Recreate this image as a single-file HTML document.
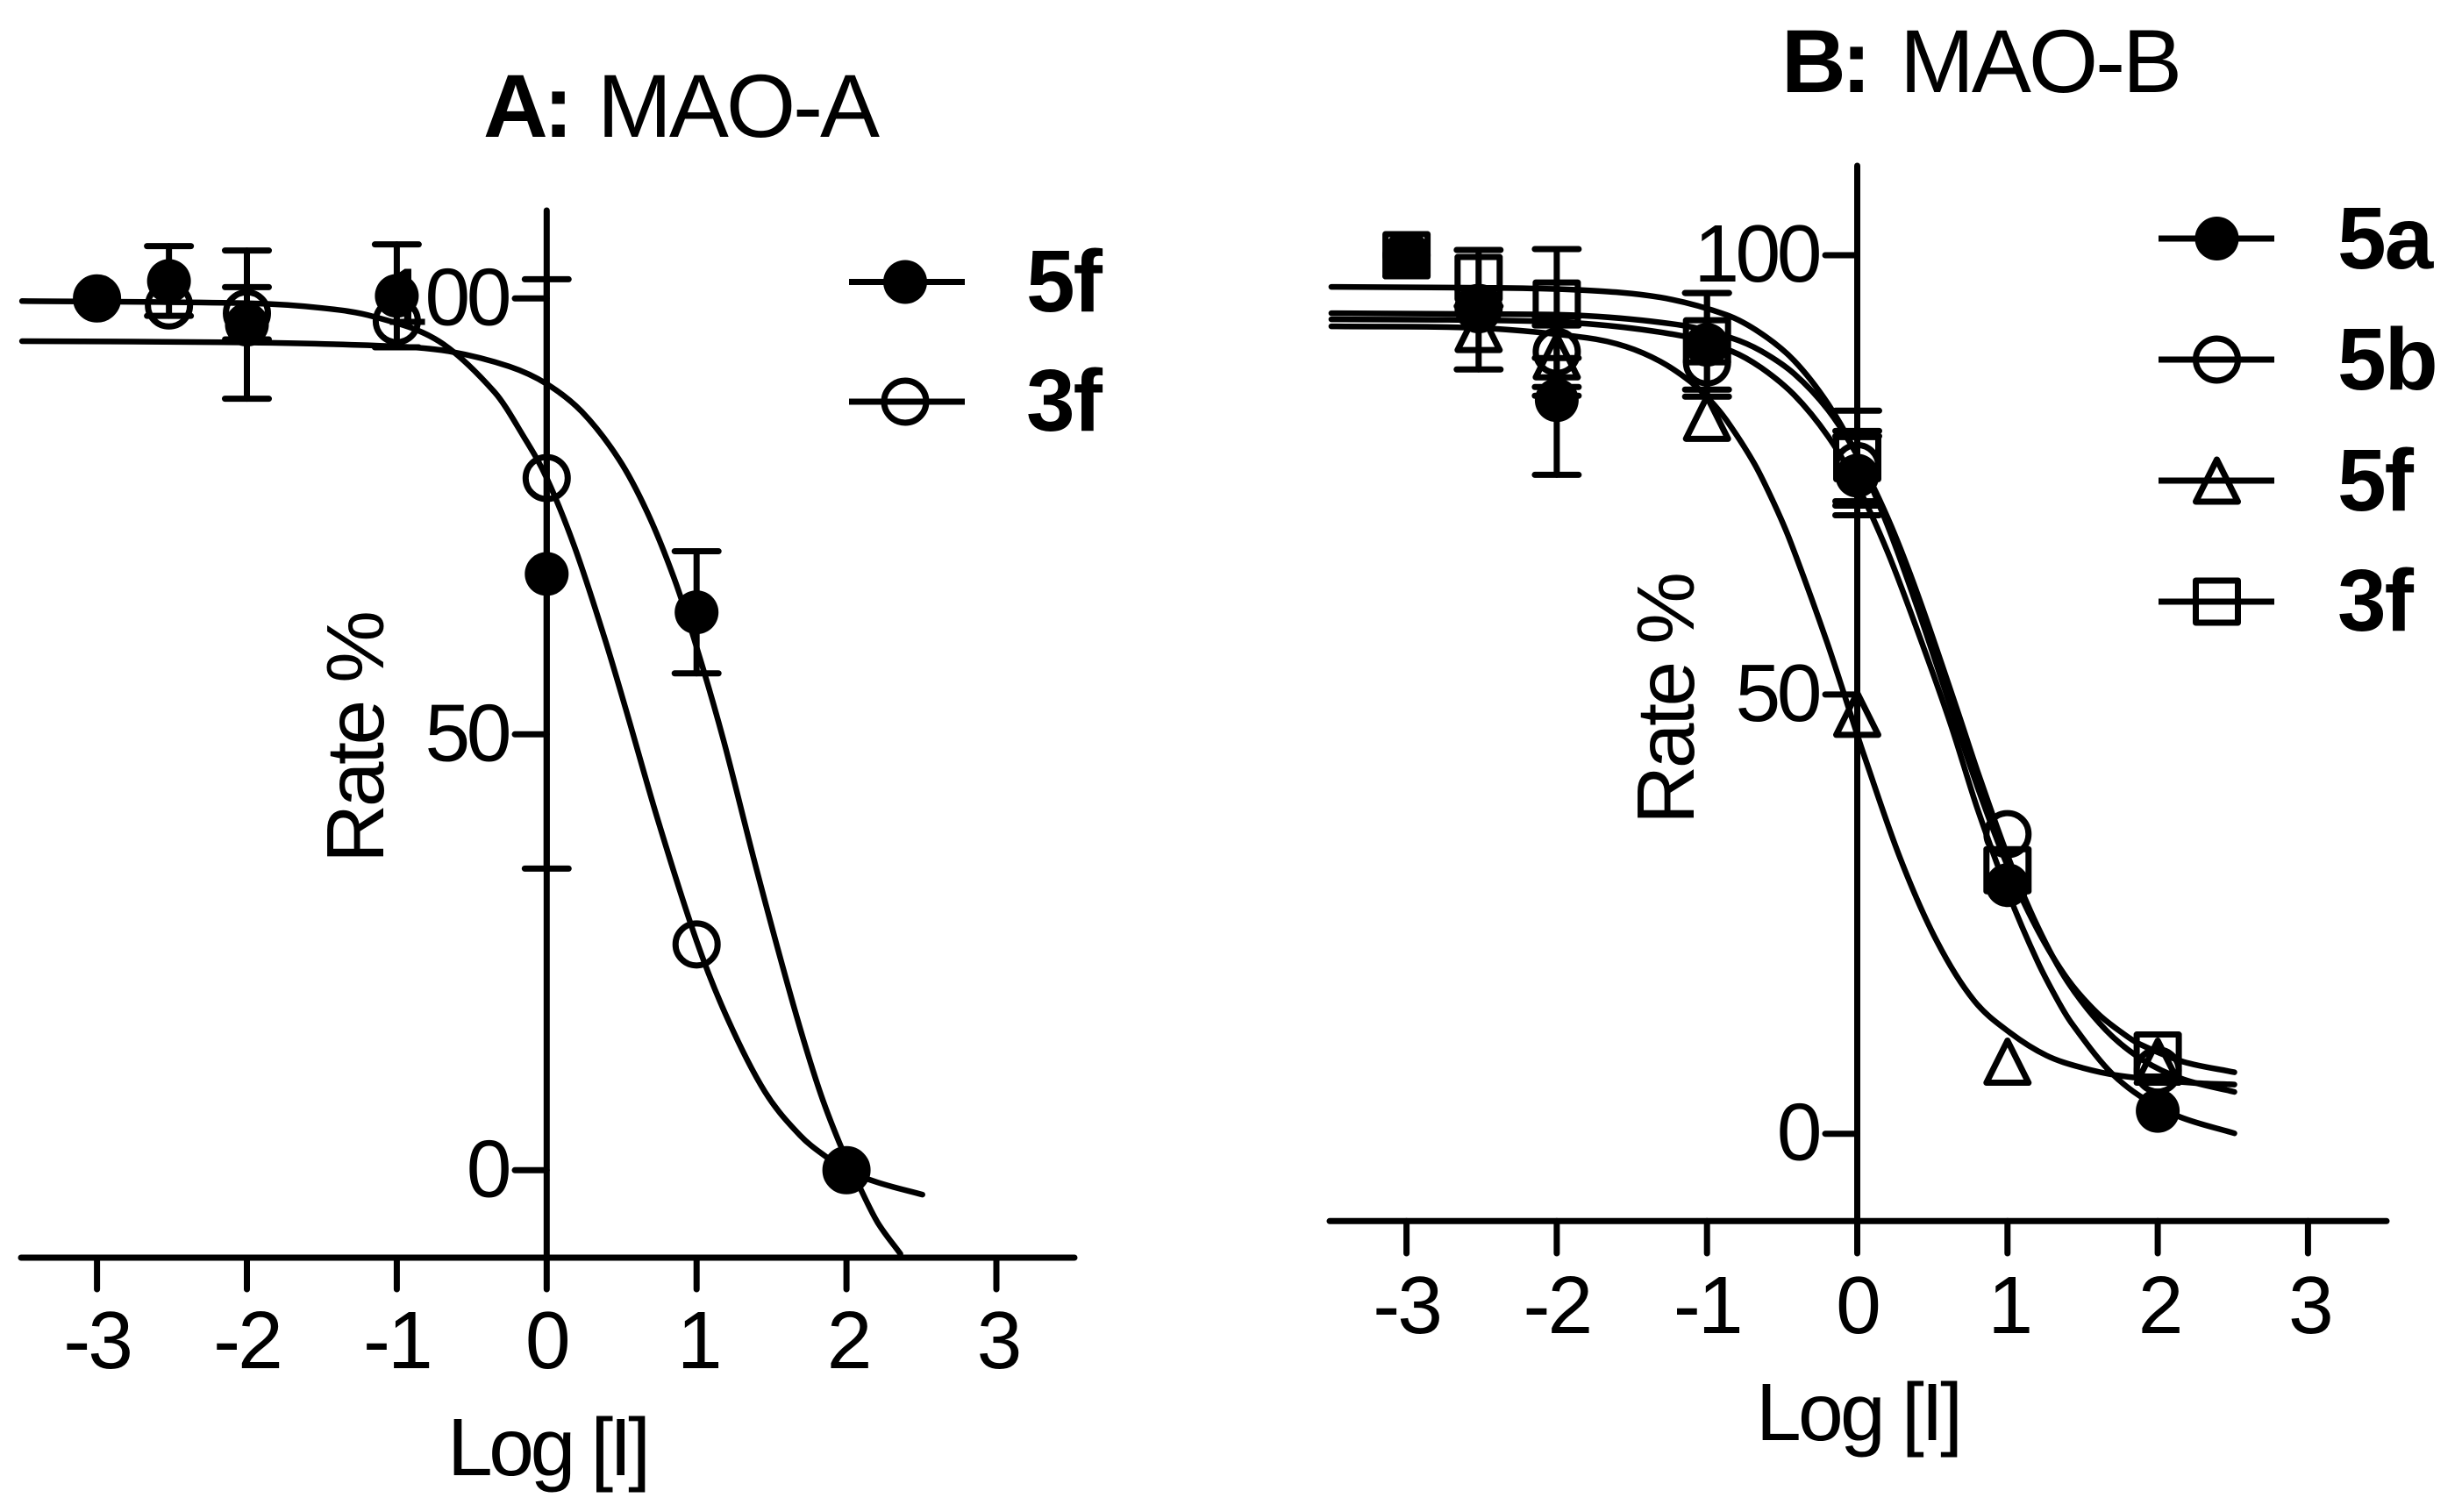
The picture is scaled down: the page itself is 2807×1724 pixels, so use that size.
<!DOCTYPE html>
<html lang="en">
<head>
<meta charset="utf-8">
<title>MAO-A and MAO-B inhibition curves</title>
<style>
  html, body { margin: 0; padding: 0; background: #fff; }
  svg { display: block; }
  text { font-family: "Liberation Sans", sans-serif; fill: #000; }
  .title { font-size: 102px; }
  .bold { font-weight: bold; letter-spacing: -5px; }
  .tick-x { font-size: 93px; letter-spacing: -3px; }
  .tick-y { font-size: 93px; letter-spacing: -4.5px; }
  .axis-title { font-size: 93px; }
  .legend-label { font-size: 100px; font-weight: bold; letter-spacing: -2px; }
</style>
</head>
<body>
<svg id="figure" xmlns="http://www.w3.org/2000/svg" width="2807" height="1724" viewBox="0 0 2807 1724">
  <rect width="2807" height="1724" fill="#fff"/>

  <g id="panelA">
    <text class="title bold" x="551" y="156">A:</text>
    <text class="title" x="681" y="156" textLength="322" lengthAdjust="spacing">MAO-A</text>
    <text class="axis-title" x="510" y="1682" textLength="232" lengthAdjust="spacing">Log [I]</text>
    <text class="axis-title" transform="translate(437 984) rotate(-90)" textLength="288" lengthAdjust="spacing">Rate %</text>
    <text class="legend-label" x="1170" y="355">5f</text>
    <text class="legend-label" x="1170" y="491">3f</text>
  </g>

  <g id="panelB">
    <text class="title bold" x="2031" y="105">B:</text>
    <text class="title" x="2166" y="105" textLength="322" lengthAdjust="spacing">MAO-B</text>
    <text class="axis-title" x="2002" y="1642" textLength="236" lengthAdjust="spacing">Log [I]</text>
    <text class="axis-title" transform="translate(1931 940) rotate(-90)" textLength="288" lengthAdjust="spacing">Rate %</text>
    <text class="legend-label" x="2665" y="306">5a</text>
    <text class="legend-label" x="2665" y="444">5b</text>
    <text class="legend-label" x="2665" y="582">5f</text>
    <text class="legend-label" x="2665" y="719">3f</text>
  </g>
</svg>

<script>
// ---------- shared axis values ----------
const xTickValues = [-3, -2, -1, 0, 1, 2, 3];
const xTickLabels = ["-3", "-2", "-1", "0", "1", "2", "3"];
const yTickValues = [0, 50, 100];
const yTickLabels = ["0", "50", "100"];

// ---------- Panel A: measured points ----------
const a5fDoses = [-3, -2.52, -2, -1, 0, 1, 2];
const a5fRates = [100, 102, 97, 100.3, 68.4, 64, 0];
const a5fErrors = [0, 4, 8.5, 5.9, 33.8, 7, 0];
const a3fDoses = [-3, -2.52, -2, -1, 0, 1, 2];
const a3fRates = [100, 99.2, 98.3, 97.4, 79.4, 25.9, 0];
const a3fErrors = [0, 0, 3, 0, 0, 0, 0];

// ---------- Panel A: fitted curves ----------
const a5fCurveX = [-3.5, -2, -1, -0.64, -0.25, 0, 0.235, 0.48, 0.67, 0.85, 1, 1.18, 1.4, 1.645, 1.815, 1.954, 2.09, 2.208, 2.36];
const a5fCurveY = [95.1, 94.95, 94.5, 93.9, 92.2, 90.2, 87, 81.6, 75.5, 67.9, 60, 49.3, 34.5, 19, 9.4, 3.1, -2, -6, -9.6];
const a3fCurveX = [-3.5, -2, -1.5, -1.15, -0.72, -0.35, -0.155, 0, 0.186, 0.38, 0.526, 0.743, 1, 1.206, 1.456, 1.69, 1.875, 2, 2.208, 2.507];
const a3fCurveY = [99.7, 99.45, 98.9, 97.9, 95.1, 89.3, 84.2, 79.4, 71.5, 61.4, 53, 40.1, 26.3, 17.4, 9, 4, 1.4, 0, -1.4, -2.8];

// ---------- Panel B: measured points ----------
const b5aDoses = [-3, -2.52, -2, -1, 0, 1, 2];
const b5aRates = [100, 93.6, 83.5, 89.8, 74.9, 28.3, 2.6];
const b5aErrors = [0, 0, 8.5, 5.9, 4.5, 0, 0];
const b5bDoses = [-3, -2.52, -2, -1, 0, 1, 2];
const b5bRates = [100, 94, 89, 87.8, 76, 34.1, 7.2];
const b5bErrors = [0, 0, 4, 0, 4, 0, 0];
const b5fDoses = [-3, -2.52, -2, -1, 0, 1, 2];
const b5fRates = [100, 91.6, 88.5, 81.5, 47.8, 8.2, 8.2];
const b5fErrors = [0, 4.6, 4.5, 0, 0, 0, 0];
const b3fDoses = [-3, -2.52, -2, -1, 0, 1, 2];
const b3fRates = [100, 97.4, 94.5, 90.2, 76.9, 30, 8.9];
const b3fErrors = [0, 3.2, 6.2, 5.5, 5.4, 0, 0];

// ---------- Panel B: fitted curves ----------
const b5aCurveX = [-3.5, -2.5, -1.8, -1.16, -0.84, -0.64, -0.42, -0.195, 0, 0.2, 0.4, 0.62, 0.8, 1, 1.2, 1.34, 1.43, 1.67, 1.88, 2.15, 2.51];
const b5aCurveY = [92.7, 92.6, 92.2, 90.8, 89.1, 87.2, 84.1, 79.4, 73.8, 66.3, 57.3, 46.7, 37, 27.6, 19.6, 15, 12.5, 7.3, 4.3, 1.9, 0.05];
const b5bCurveX = [-3.5, -2.5, -1.8, -1.16, -0.84, -0.64, -0.42, -0.195, 0, 0.2, 0.4, 0.67, 0.8, 1, 1.2, 1.4, 1.655, 1.9, 2.17, 2.51];
const b5bCurveY = [93.4, 93.3, 93.1, 92, 90.6, 89.1, 86.5, 82.4, 77.2, 70.2, 61.5, 48, 41.3, 31.7, 23.6, 17.3, 11.8, 8.4, 6.2, 4.76];
const b5fCurveX = [-3.5, -2.5, -1.8, -1.54, -1.31, -1.11, -0.98, -0.87, -0.686, -0.55, -0.44, -0.2, -0.03, 0.045, 0.287, 0.53, 0.775, 1.017, 1.26, 1.5, 1.75, 2.23, 2.51];
const b5fCurveY = [91.9, 91.7, 90.6, 89.6, 87.9, 85.6, 83.5, 81.2, 76.3, 71.6, 67.2, 55.9, 47, 43.1, 31.3, 21.9, 15.2, 11.5, 8.9, 7.5, 6.6, 5.8, 5.6];
const b3fCurveX = [-3.5, -2.5, -1.85, -1.31, -0.87, -0.64, -0.42, -0.195, 0, 0.2, 0.4, 0.58, 0.8, 1, 1.2, 1.4, 1.6, 1.77, 1.88, 2.17, 2.51];
const b3fCurveY = [96.4, 96.3, 96.05, 95.2, 93.2, 91.1, 88, 83.1, 77.2, 69.3, 59.9, 50.7, 39.5, 30.5, 23.2, 17.6, 13.7, 11.4, 10.2, 8.2, 7];

// ---------- axis functions ----------
const xA = v => 623.3 + v * 170.9;
const yA = v => 1334.3 - v * 9.94;
const xB = v => 2117.5 + v * 171.3;
const yB = v => 1292.7 - v * 10.017;

const SVG_NS = "http://www.w3.org/2000/svg";

function make(parent, tag, attrs) {
  const node = document.createElementNS(SVG_NS, tag);
  for (const k in attrs) node.setAttribute(k, attrs[k]);
  parent.appendChild(node);
  return node;
}

function seg(parent, x1, y1, x2, y2, w) {
  return make(parent, "line", { x1, y1, x2, y2, stroke: "#000", "stroke-width": w, "stroke-linecap": "round" });
}

function smoothPath(px, py) {
  const n = px.length;
  const slope = i => {
    const a = Math.max(i - 1, 0), b = Math.min(i + 1, n - 1);
    return (py[b] - py[a]) / (px[b] - px[a]);
  };
  let d = "M" + px[0].toFixed(1) + " " + py[0].toFixed(1);
  for (let i = 0; i < n - 1; i++) {
    const dx = (px[i + 1] - px[i]) / 3;
    d += "C" + (px[i] + dx).toFixed(1) + " " + (py[i] + slope(i) * dx).toFixed(1) + " " +
         (px[i + 1] - dx).toFixed(1) + " " + (py[i + 1] - slope(i + 1) * dx).toFixed(1) + " " +
         px[i + 1].toFixed(1) + " " + py[i + 1].toFixed(1);
  }
  return d;
}

function marker(parent, shape, cx, cy) {
  if (shape === "filled-circle") {
    return make(parent, "circle", { cx, cy, r: 25, fill: "#000" });
  }
  if (shape === "open-circle") {
    return make(parent, "circle", { cx, cy, r: 24, fill: "none", stroke: "#000", "stroke-width": 7 });
  }
  if (shape === "open-square") {
    return make(parent, "rect", { x: cx - 24, y: cy - 24, width: 48, height: 48, fill: "none", stroke: "#000", "stroke-width": 7, "stroke-linejoin": "round" });
  }
  return make(parent, "polygon", { points: (cx) + "," + (cy - 24) + " " + (cx + 24) + "," + (cy + 24) + " " + (cx - 24) + "," + (cy + 24), fill: "none", stroke: "#000", "stroke-width": 7, "stroke-linejoin": "round" });
}

function drawAxes(group, p, xf, yf, top, left, right, axisY, tickEnd, yTickLeft, yLabelX, xLabelY, yLabelOffset) {
  const yAxis = seg(group, xf(0), top, xf(0), axisY, 7);
  
  
  const xAxis = seg(group, left, axisY, right, axisY, 7);
  
  
  xTickValues.forEach((v, i) => {
    const t = seg(group, xf(v), axisY, xf(v), tickEnd, 7);
    
    
    const lab = make(group, "text", { x: xf(v) + (v > 0 ? 2 : 0), y: xLabelY, class: "tick-x", "text-anchor": "middle" });
    lab.textContent = xTickLabels[i];
    
    
  });
  yTickValues.forEach((v, i) => {
    const t = seg(group, yTickLeft, yf(v), xf(0), yf(v), 7);
    
    
    const lab = make(group, "text", { x: yLabelX + 1, y: yf(v) + yLabelOffset, class: "tick-y", "text-anchor": "end" });
    lab.textContent = yTickLabels[i];
    
    
  });
}

function drawCurve(group, name, cx, cy, xf, yf) {
  const path = make(group, "path", { d: smoothPath(cx.map(xf), cy.map(yf)), fill: "none", stroke: "#000", "stroke-width": 6.5, "stroke-linecap": "round" });
  
  
}

function drawPoints(group, name, shape, doses, rates, errors, xf, yf) {
  doses.forEach((d, i) => {
    if (errors[i] > 0) {
      const bar = make(group, "g", {});
      
      
      const px = xf(d), hi = yf(rates[i] + errors[i]), lo = yf(rates[i] - errors[i]);
      seg(bar, px, hi, px, lo, 7);
      seg(bar, px - 25, hi, px + 25, hi, 7);
      seg(bar, px - 25, lo, px + 25, lo, 7);
    }
  });
  doses.forEach((d, i) => {
    const m = marker(group, shape, xf(d), yf(rates[i]));
    
    
  });
}

function drawLegendKey(group, name, shape, x1, x2, cx, y) {
  const key = make(group, "g", {});
  
  
  make(key, "line", { x1, y1: y, x2, y2: y, stroke: "#000", "stroke-width": 7 });
  marker(key, shape, cx, y);
}

// ---------- Panel A ----------
const gA = document.getElementById("panelA");
drawAxes(gA, "panel-a", xA, yA, 240, 24, 1225, 1434, 1470, 587, 578, 1560, 30);
drawCurve(gA, "panel-a-5f", a5fCurveX, a5fCurveY, xA, yA);
drawCurve(gA, "panel-a-3f", a3fCurveX, a3fCurveY, xA, yA);
drawPoints(gA, "panel-a-3f", "open-circle", a3fDoses, a3fRates, a3fErrors, xA, yA);
drawPoints(gA, "panel-a-5f", "filled-circle", a5fDoses, a5fRates, a5fErrors, xA, yA);
drawLegendKey(gA, "panel-a-5f", "filled-circle", 968, 1100, 1032, 321.5);
drawLegendKey(gA, "panel-a-3f", "open-circle", 968, 1100, 1032, 458);

// ---------- Panel B ----------
const gB = document.getElementById("panelB");
drawAxes(gB, "panel-b", xB, yB, 189, 1516, 2721, 1392.3, 1429, 2081, 2072, 1520, 30);
drawCurve(gB, "panel-b-5a", b5aCurveX, b5aCurveY, xB, yB);
drawCurve(gB, "panel-b-5b", b5bCurveX, b5bCurveY, xB, yB);
drawCurve(gB, "panel-b-5f", b5fCurveX, b5fCurveY, xB, yB);
drawCurve(gB, "panel-b-3f", b3fCurveX, b3fCurveY, xB, yB);
drawPoints(gB, "panel-b-5f", "open-triangle", b5fDoses, b5fRates, b5fErrors, xB, yB);
drawPoints(gB, "panel-b-5b", "open-circle", b5bDoses, b5bRates, b5bErrors, xB, yB);
drawPoints(gB, "panel-b-3f", "open-square", b3fDoses, b3fRates, b3fErrors, xB, yB);
drawPoints(gB, "panel-b-5a", "filled-circle", b5aDoses, b5aRates, b5aErrors, xB, yB);
drawLegendKey(gB, "panel-b-5a", "filled-circle", 2461, 2593, 2527.5, 272);
drawLegendKey(gB, "panel-b-5b", "open-circle", 2461, 2593, 2527.5, 410);
drawLegendKey(gB, "panel-b-5f", "open-triangle", 2461, 2593, 2527.5, 548);
drawLegendKey(gB, "panel-b-3f", "open-square", 2461, 2593, 2527.5, 686);
</script>
</body>
</html>
